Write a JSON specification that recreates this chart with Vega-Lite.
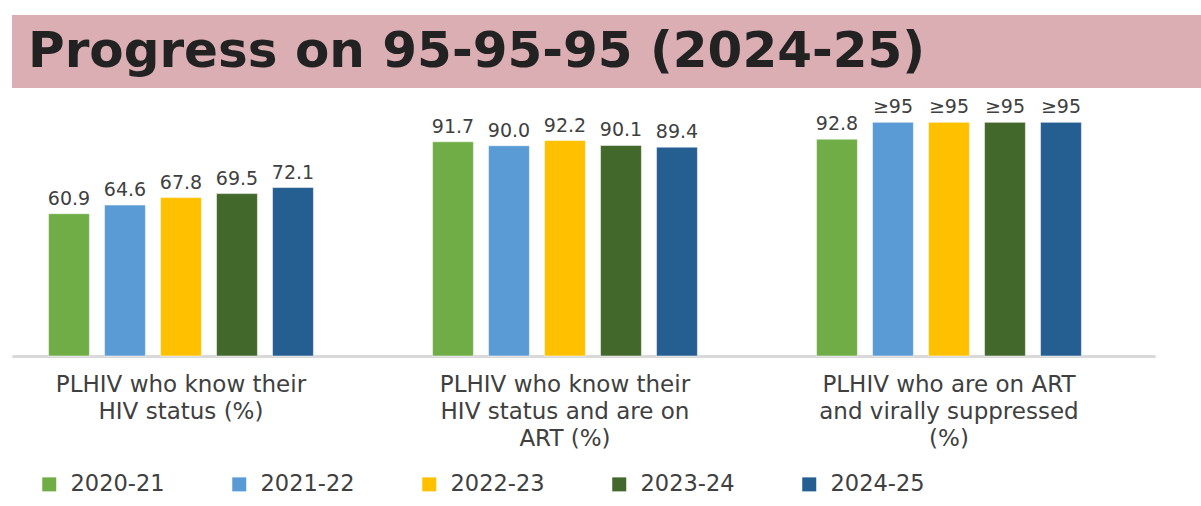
{
  "$schema": "https://vega.github.io/schema/vega-lite/v6.json",
  "padding": {"left": 12, "top": 15, "right": 0, "bottom": 0},
  "background": "white",
  "config": {"view": {"stroke": null}, "font": "DejaVu Sans", "concat": {"spacing": 10}},
  "datasets": {
    "hdr": [{"t": "Progress on 95-95-95 (2024-25)"}],
    "bars": [
      {"indicator": "PLHIV who know their|HIV status (%)", "year": "2020-21", "value": 60.9, "label": "60.9"},
      {"indicator": "PLHIV who know their|HIV status (%)", "year": "2021-22", "value": 64.6, "label": "64.6"},
      {"indicator": "PLHIV who know their|HIV status (%)", "year": "2022-23", "value": 67.8, "label": "67.8"},
      {"indicator": "PLHIV who know their|HIV status (%)", "year": "2023-24", "value": 69.5, "label": "69.5"},
      {"indicator": "PLHIV who know their|HIV status (%)", "year": "2024-25", "value": 72.1, "label": "72.1"},
      {"indicator": "PLHIV who know their|HIV status and are on|ART (%)", "year": "2020-21", "value": 91.7, "label": "91.7"},
      {"indicator": "PLHIV who know their|HIV status and are on|ART (%)", "year": "2021-22", "value": 90.0, "label": "90.0"},
      {"indicator": "PLHIV who know their|HIV status and are on|ART (%)", "year": "2022-23", "value": 92.2, "label": "92.2"},
      {"indicator": "PLHIV who know their|HIV status and are on|ART (%)", "year": "2023-24", "value": 90.1, "label": "90.1"},
      {"indicator": "PLHIV who know their|HIV status and are on|ART (%)", "year": "2024-25", "value": 89.4, "label": "89.4"},
      {"indicator": "PLHIV who are on ART|and virally suppressed|(%)", "year": "2020-21", "value": 92.8, "label": "92.8"},
      {"indicator": "PLHIV who are on ART|and virally suppressed|(%)", "year": "2021-22", "value": 100, "label": "≥95"},
      {"indicator": "PLHIV who are on ART|and virally suppressed|(%)", "year": "2022-23", "value": 100, "label": "≥95"},
      {"indicator": "PLHIV who are on ART|and virally suppressed|(%)", "year": "2023-24", "value": 100, "label": "≥95"},
      {"indicator": "PLHIV who are on ART|and virally suppressed|(%)", "year": "2024-25", "value": 100, "label": "≥95"}
    ]
  },
  "vconcat": [
    {
      "data": {"name": "hdr"},
      "width": 1189,
      "height": 73,
      "view": {"fill": "#dbaeb3", "stroke": null},
      "mark": {"type": "text", "align": "left", "baseline": "alphabetic", "dx": 16, "dy": 15, "fontSize": 50, "fontWeight": "bold", "color": "#222222"},
      "encoding": {
        "x": {"field": "t", "type": "nominal", "scale": {"type": "point", "padding": 0, "align": 0}, "axis": null},
        "text": {"field": "t"}
      }
    },
    {
      "data": {"name": "bars"},
      "width": 1143,
      "height": 257,
      "encoding": {
        "x": {
          "field": "indicator", "type": "nominal", "sort": null,
          "scale": {"paddingInner": 0.2708, "paddingOuter": 0.1237, "align": 0.305},
          "axis": {
            "title": null, "labelExpr": "split(datum.label, '|')", "labelAngle": 0,
            "labelFontSize": 23, "labelLineHeight": 27, "labelColor": "#404040",
            "labelPadding": 17, "ticks": false, "domainColor": "#d9d9d9", "domainWidth": 3,
            "labelLimit": 0, "labelOverlap": false, "labelBound": false, "labelBaseline": "top"
          }
        },
        "xOffset": {"field": "year", "type": "nominal", "scale": {"paddingInner": 0.27, "paddingOuter": 0.135}},
        "y": {"field": "value", "type": "quantitative", "scale": {"domain": [0, 110]}, "axis": null}
      },
      "layer": [
        {
          "mark": {"type": "bar", "stroke": "#ffffff", "strokeOpacity": 0.5, "strokeWidth": 1},
          "encoding": {
            "color": {
              "field": "year", "type": "nominal",
              "scale": {"domain": ["2020-21", "2021-22", "2022-23", "2023-24", "2024-25"], "range": ["#70ad47", "#5b9bd5", "#ffc000", "#43682b", "#255e91"]},
              "legend": {
                "orient": "none", "legendX": 26, "legendY": 458, "direction": "horizontal", "title": null, "symbolType": "square",
                "symbolSize": 196, "symbolStrokeWidth": 0, "symbolOpacity": 1, "labelFontSize": 22.5, "labelColor": "#404040",
                "labelOffset": 10, "columnPadding": 63
              }
            }
          }
        },
        {
          "mark": {"type": "text", "baseline": "alphabetic", "dy": -9, "fontSize": 19, "color": "#404040"},
          "encoding": {"text": {"field": "label"}}
        }
      ]
    }
  ]
}
